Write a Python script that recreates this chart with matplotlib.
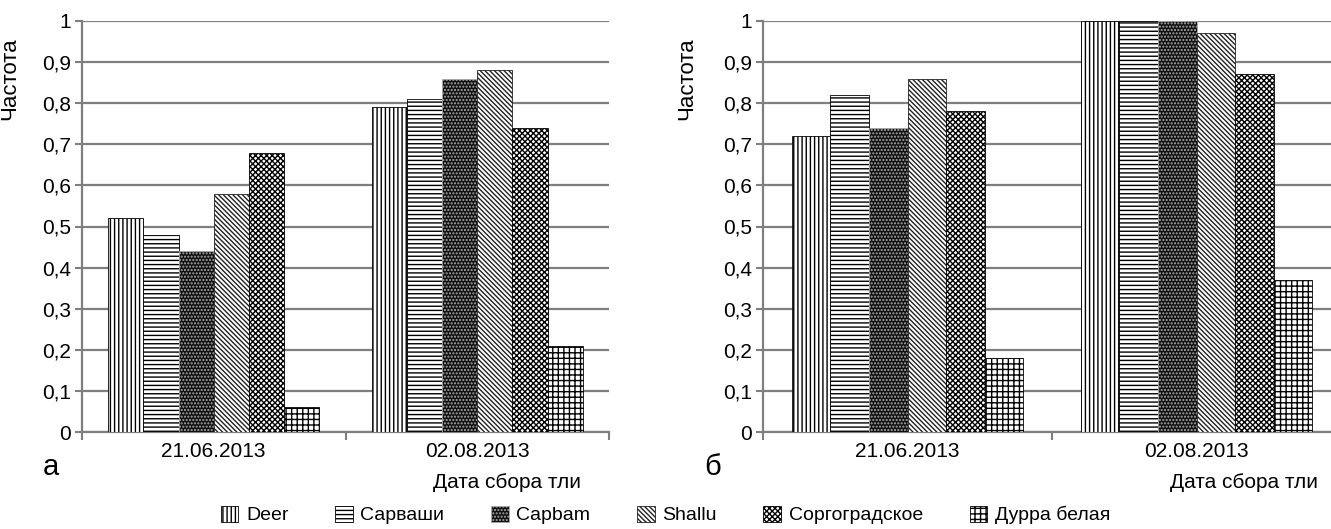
import matplotlib.pyplot as plt
import numpy as np

plt.rcParams['font.family'] = ['Liberation Sans', 'DejaVu Sans']
plt.rcParams['hatch.linewidth'] = 1.0

dates = ['21.06.2013', '02.08.2013']
sorts = ['Deer', 'Сарваши', 'Capbam', 'Shallu', 'Соргоградское', 'Дурра белая']

# частоты, панель а
freq_a = [
    [0.52, 0.79],
    [0.48, 0.81],
    [0.44, 0.86],
    [0.58, 0.88],
    [0.68, 0.74],
    [0.06, 0.21],
]
# частоты, панель б
freq_b = [
    [0.72, 1.00],
    [0.82, 1.00],
    [0.74, 1.00],
    [0.86, 0.97],
    [0.78, 0.87],
    [0.18, 0.37],
]

styles = [
    dict(facecolor='white', edgecolor='black', hatch='||||'),
    dict(facecolor='white', edgecolor='black', hatch='----'),
    dict(facecolor='#111111', edgecolor='#aaaaaa', hatch='.....'),
    dict(facecolor='white', edgecolor='#222222', hatch='\\' * 7),
    dict(facecolor='white', edgecolor='black', hatch='xxxxxx'),
    dict(facecolor='white', edgecolor='black', hatch='+++'),
]

GRID = '#7f7f7f'
FS = 15


def draw_panel(ax, data, letter, lx):
    x = np.arange(len(dates))
    w = 0.8 / len(sorts)
    for i, (name, vals) in enumerate(zip(sorts, data)):
        ax.bar(x + (i - 2.5) * w, vals, w, label=name, linewidth=0.6,
               zorder=3, **styles[i])
    ax.set_xlim(-0.5, 1.5)
    ax.set_ylim(0, 1)
    ax.set_yticks(np.arange(0, 1.01, 0.1))
    ax.set_yticklabels(['0'] + ['0,%d' % k for k in range(1, 10)] + ['1'])
    ax.yaxis.grid(True, color=GRID, linewidth=1.6, zorder=0)
    ax.set_axisbelow(True)
    ax.set_xticks([-0.5, 0.5, 1.5])
    ax.set_xticklabels([])
    ax.set_xticks(x, minor=True)
    ax.set_xticklabels(dates, minor=True, fontsize=FS)
    ax.tick_params(axis='x', which='minor', length=0, pad=7)
    ax.tick_params(axis='x', which='major', length=6, width=1.5, color=GRID)
    ax.tick_params(axis='y', length=5, width=1.5, color=GRID, labelsize=FS, pad=3)
    for s in ['top', 'right']:
        ax.spines[s].set_visible(False)
    for s in ['left', 'bottom']:
        ax.spines[s].set_color(GRID)
        ax.spines[s].set_linewidth(1.6)
    ax.set_ylabel('Частота', fontsize=FS + 1)
    ax.text(lx, -0.085, letter, transform=ax.transAxes, fontsize=21,
            ha='center', va='center')


fig = plt.figure(figsize=(13.31, 5.29), dpi=100)
ax1 = fig.add_axes([82 / 1331, 97 / 529, 527 / 1331, 411 / 529])
ax2 = fig.add_axes([763 / 1331, 97 / 529, 578 / 1331, 411 / 529])

draw_panel(ax1, freq_a, 'а', -0.06)
draw_panel(ax2, freq_b, 'б', -0.088)
ax1.yaxis.set_label_coords(-0.118, 0.86)
ax2.yaxis.set_label_coords(-0.113, 0.86)

fig.text(581 / 1331, 1 - 482 / 529, 'Дата сбора тли', fontsize=FS,
         ha='right', va='center')
fig.text(1318 / 1331, 1 - 482 / 529, 'Дата сбора тли', fontsize=FS,
         ha='right', va='center')

handles, labels = ax1.get_legend_handles_labels()
fig.legend(handles, labels, loc='center', bbox_to_anchor=(0.5, 1 - 515 / 529),
           ncol=6, frameon=False, fontsize=FS - 1, handlelength=0.9,
           handleheight=0.9, handletextpad=0.4, columnspacing=2.4)

fig.savefig('out.png', dpi=100)
